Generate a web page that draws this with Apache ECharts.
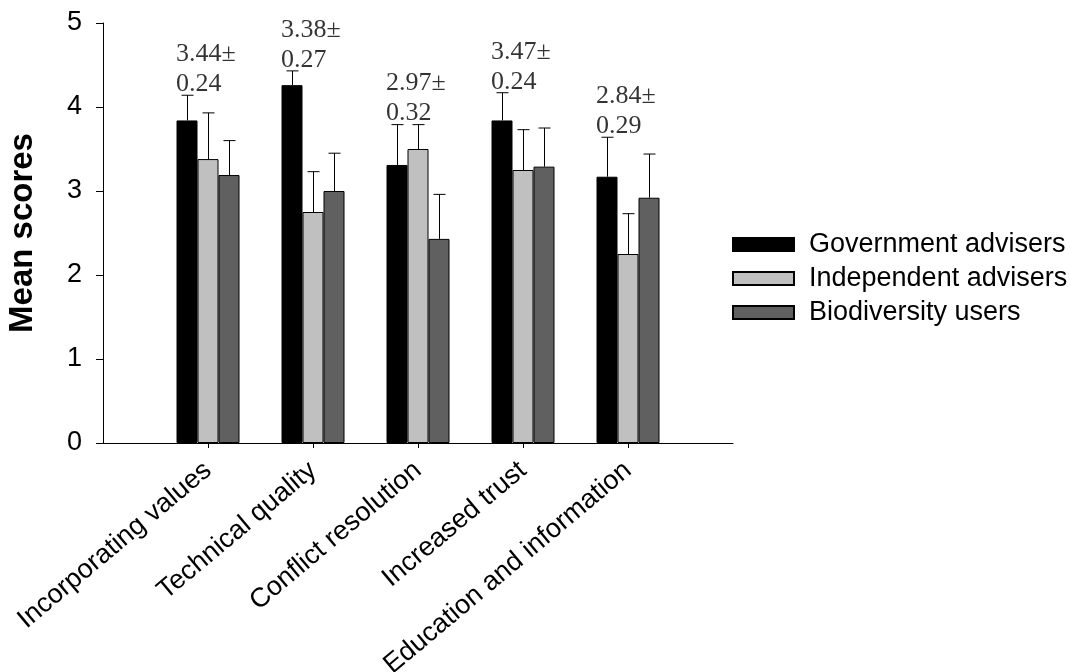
<!DOCTYPE html>
<html>
<head>
<meta charset="utf-8">
<script src="https://cdn.jsdelivr.net/npm/echarts@6/dist/echarts.min.js"></script>
<style>
  html, body { margin: 0; padding: 0; background: #fff; }
  #chart { width: 1070px; height: 672px; }
</style>
</head>
<body>
<div id="chart"></div>
<script>
// Outcome categories
const categories = ['Incorporating values', 'Technical quality', 'Conflict resolution', 'Increased trust', 'Education and information'];

// Mean scores per adviser group
const governmentMeans   = [3.84, 4.26, 3.31, 3.84, 3.17];
const independentMeans  = [3.38, 2.75, 3.50, 3.25, 2.25];
const biodiversityMeans = [3.19, 3.00, 2.43, 3.29, 2.92];

// Standard errors (upper error bars)
const governmentErr   = [0.30, 0.17, 0.48, 0.33, 0.47];
const independentErr  = [0.55, 0.48, 0.29, 0.48, 0.48];
const biodiversityErr = [0.41, 0.45, 0.53, 0.46, 0.52];

// Overall mean ± SE for each category
const overallMean = ['3.44', '3.38', '2.97', '3.47', '2.84'];
const overallSE   = ['0.24', '0.27', '0.32', '0.24', '0.29'];

const yTicks = [0, 1, 2, 3, 4, 5];

const groups = [
  { name: 'Government advisers',  means: governmentMeans,   err: governmentErr,   color: '#000000' },
  { name: 'Independent advisers', means: independentMeans,  err: independentErr,  color: '#c0c0c0' },
  { name: 'Biodiversity users',   means: biodiversityMeans, err: biodiversityErr, color: '#606060' }
];

// Padded axis so the five categories sit on interior ticks
const axisData = [''].concat(categories, ['']);

const SANS = "'Liberation Sans', Arial, sans-serif";
const SERIF = "'Liberation Serif', 'Times New Roman', serif";

const series = [];
groups.forEach(function (g) {
  series.push({
    name: g.name,
    type: 'bar',
    barGap: '0%',
    barCategoryGap: '40%',
    itemStyle: { color: g.color, borderColor: '#000', borderWidth: 1 },
    data: g.means.map(function (v, i) { return [i + 1, v]; }),
    z: 2
  });
});

groups.forEach(function (g, gi) {
  series.push({
    name: g.name + ' SE',
    type: 'custom',
    z: 3,
    silent: true,
    data: g.means.map(function (v, i) { return [i + 1, v, v + g.err[i]]; }),
    renderItem: function (params, api) {
      const band = api.size([1, 0])[0];
      const barW = band * 0.6 / 3;
      const base = api.coord([api.value(0), api.value(1)]);
      const top = api.coord([api.value(0), api.value(2)]);
      const x = Math.round(base[0] + (gi - 1) * barW) + 0.5;
      const cap = 6;
      const style = { stroke: '#000', lineWidth: 1 };
      return {
        type: 'group',
        children: [
          { type: 'line', shape: { x1: x, y1: base[1], x2: x, y2: top[1] }, style: style },
          { type: 'line', shape: { x1: x - cap, y1: top[1], x2: x + cap, y2: top[1] }, style: style }
        ]
      };
    }
  });
});

// Overall mean ± SE annotations above the government bars
series.push({
  name: 'Overall',
  type: 'scatter',
  symbolSize: 0,
  silent: true,
  z: 4,
  data: governmentMeans.map(function (v, i) { return [i + 1, v + governmentErr[i]]; }),
  label: {
    show: true,
    position: 'top',
    distance: 0,
    align: 'left',
    offset: [-32, 4],
    fontFamily: SERIF,
    fontSize: 26,
    lineHeight: 30,
    color: '#000',
    formatter: function (p) {
      const i = p.dataIndex;
      return overallMean[i] + '\u00b1\n' + overallSE[i];
    }
  }
});

const chart = echarts.init(document.getElementById('chart'), null, { renderer: 'canvas' });
chart.setOption({
  animation: false,
  backgroundColor: '#fff',
  grid: { left: 103, right: 337, top: 23, bottom: 229, containLabel: false, outerBoundsMode: 'none' },
  legend: {
    data: groups.map(function (g) { return g.name; }),
    orient: 'vertical',
    left: 732,
    top: 231,
    padding: 0,
    itemGap: 7,
    itemWidth: 61,
    itemHeight: 13,
    icon: 'rect',
    textStyle: { fontFamily: SANS, fontSize: 27, color: '#000', lineHeight: 27, padding: [0, 0, 0, 10] }
  },
  xAxis: {
    type: 'category',
    data: axisData,
    boundaryGap: false,
    axisLine: { lineStyle: { color: '#000', width: 1 } },
    axisTick: {
      show: true,
      length: 5,
      interval: function (index) { return index > 0 && index < axisData.length - 1; },
      lineStyle: { color: '#000' }
    },
    axisLabel: {
      interval: 0,
      rotate: 40,
      margin: 24,
      fontFamily: SANS,
      fontSize: 27,
      color: '#000'
    },
    splitLine: { show: false }
  },
  yAxis: {
    type: 'value',
    min: yTicks[0],
    max: yTicks[yTicks.length - 1],
    interval: 1,
    name: 'Mean scores',
    nameLocation: 'middle',
    nameGap: 64,
    nameRotate: 90,
    nameTextStyle: { fontFamily: SANS, fontSize: 33, fontWeight: 'bold', color: '#000' },
    axisLine: { show: true, lineStyle: { color: '#000', width: 1 } },
    axisTick: { show: true, length: 7, lineStyle: { color: '#000' } },
    axisLabel: { margin: 21, fontFamily: SANS, fontSize: 27, color: '#000' },
    splitLine: { show: false }
  },
  series: series
});
</script>
</body>
</html>
